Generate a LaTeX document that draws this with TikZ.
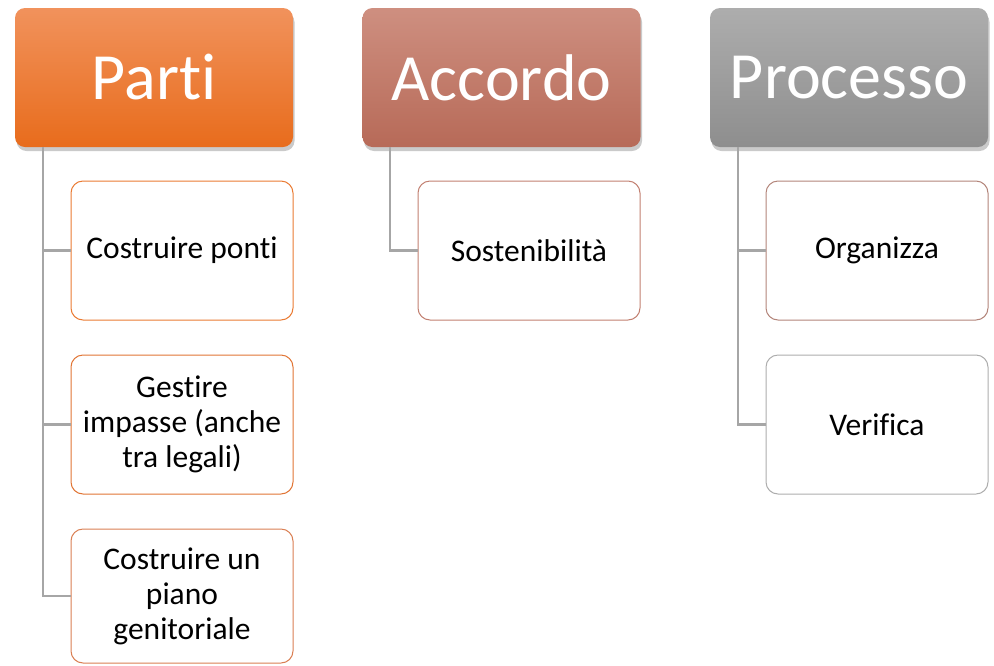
\documentclass[tikz,border=0pt]{standalone}
\usepackage{fontspec}
\setmainfont{Carlito}[Ligatures={NoCommon,NoContextual}]
\usetikzlibrary{shadows}
\definecolor{partiTop}{HTML}{F1925C}
\definecolor{partiBot}{HTML}{E86C1C}
\definecolor{accTop}{HTML}{CE8F80}
\definecolor{accBot}{HTML}{B76A58}
\definecolor{procTop}{HTML}{ADADAD}
\definecolor{procBot}{HTML}{8E8E8E}
\definecolor{linkGray}{HTML}{A6A6A6}
\newcommand{\headSty}{\fontsize{66}{70}\selectfont}
\newcommand{\itemSty}{\fontsize{31.5}{35}\selectfont}

\begin{document}
\begin{tikzpicture}[x=1pt, y=-1pt,
		head/.style={minimum width=278pt, minimum height=139pt, rounded corners=10pt, text=white, inner sep=0pt,
			font=\headSty, drop shadow={shadow xshift=1.5pt, shadow yshift=-4pt, opacity=0.35, fill=black!60}},
		leaf/.style={draw, line width=1pt, fill=white, minimum width=222pt, minimum height=139pt, rounded corners=12pt,
			align=center, inner sep=0pt, text=black, font=\itemSty},
		link/.style={draw=linkGray, line width=2.2pt}]

		% page
		\useasboundingbox (0,0) rectangle (994,665);

		% headers
		\node[head, top color=partiTop, bottom color=partiBot] (parti) at (154,77.5) {Parti};
		\node[head, top color=accTop, bottom color=accBot] (accordo) at (501.5,77.5) {Accordo};
		\node[head, top color=procTop, bottom color=procBot] (processo) at (849,77.5) {Processo};

		% parti - items
		\node[leaf, draw=partiBot!90!white] (partiA) at (182,250.5) {Costruire ponti};
		\node[leaf, draw=partiBot!75!accTop] (partiB) at (182,424.5) {Gestire\\ impasse (anche\\ tra legali)};
		\node[leaf, draw=partiBot!45!accTop, minimum height=134pt] (partiC) at (182,596) {Costruire un\\ piano\\ genitoriale};

		% accordo - items
		\node[leaf, draw=accBot!85!white] (accordoA) at (529,250.5) {Sostenibilità};

		% processo - items
		\node[leaf, draw=accBot!60!procTop] (processoA) at (877,250.5) {Organizza};
		\node[leaf, draw=procTop] (processoB) at (877,424.5) {Verifica};

		% links
		\coordinate (partiT) at (43,147);
		\coordinate (accordoT) at (390,147);
		\coordinate (processoT) at (738,147);
		\draw[link] (partiT) |- (partiA.west);
		\draw[link] (partiT) |- (partiB.west);
		\draw[link] (partiT) |- (partiC.west);
		\draw[link] (accordoT) |- (accordoA.west);
		\draw[link] (processoT) |- (processoA.west);
		\draw[link] (processoT) |- (processoB.west);

	\end{tikzpicture}
\end{document}
